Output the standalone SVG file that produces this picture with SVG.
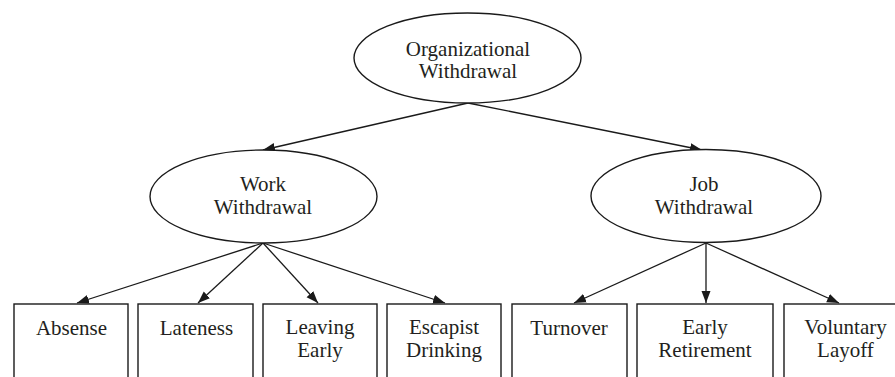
<svg xmlns="http://www.w3.org/2000/svg" width="895" height="377" viewBox="0 0 895 377">
  <defs>
    <marker id="arrow" markerUnits="userSpaceOnUse" markerWidth="13" markerHeight="10" refX="12" refY="5" orient="auto">
      <path d="M0,0.5 L12,5 L0,9.5 z" fill="#1a1a1a"/>
    </marker>
    <style>
      .shape { fill: #ffffff; stroke: #1a1a1a; stroke-width: 1.4; }
      .label { font-family: 'Liberation Serif', 'Times New Roman', Times, 'DejaVu Serif', serif; font-size: 21px; fill: #231f20; text-anchor: middle; }
      .edge { stroke: #1a1a1a; stroke-width: 1.3; fill: none; marker-end: url(#arrow); }
    </style>
  </defs>
  <rect width="895" height="377" fill="#ffffff"/>

  <g id="connectors">
    <line class="edge" x1="468" y1="103" x2="263" y2="150"/>
    <line class="edge" x1="468" y1="103" x2="702" y2="150"/>
    <line class="edge" x1="263" y1="243" x2="77" y2="303"/>
    <line class="edge" x1="263" y1="243" x2="198" y2="303"/>
    <line class="edge" x1="263" y1="243" x2="318" y2="303"/>
    <line class="edge" x1="263" y1="243" x2="445" y2="303"/>
    <line class="edge" x1="706" y1="243" x2="574" y2="303"/>
    <line class="edge" x1="706" y1="243" x2="706" y2="303"/>
    <line class="edge" x1="706" y1="243" x2="839" y2="303"/>
  </g>

  <g id="organizational-withdrawal">
    <ellipse class="shape" cx="467.5" cy="58" rx="113.5" ry="45"/>
    <text class="label" font-family="Liberation Serif, serif" x="468" y="56">Organizational</text>
    <text class="label" font-family="Liberation Serif, serif" x="468" y="78">Withdrawal</text>
  </g>

  <g id="work-withdrawal">
    <ellipse class="shape" cx="263.5" cy="196.5" rx="113.5" ry="46.5"/>
    <text class="label" x="263" y="191">Work</text>
    <text class="label" x="263" y="214">Withdrawal</text>
  </g>

  <g id="job-withdrawal">
    <ellipse class="shape" cx="706" cy="196" rx="115" ry="46.5"/>
    <text class="label" x="704" y="191">Job</text>
    <text class="label" x="704" y="214">Withdrawal</text>
  </g>

  <g id="absense">
    <rect class="shape" x="14" y="304" width="114" height="100"/>
    <text class="label" x="71.5" y="335">Absense</text>
  </g>

  <g id="lateness">
    <rect class="shape" x="138" y="304" width="115" height="100"/>
    <text class="label" x="196.5" y="335">Lateness</text>
  </g>

  <g id="leaving-early">
    <rect class="shape" x="263" y="304" width="114" height="100"/>
    <text class="label" x="320" y="334">Leaving</text>
    <text class="label" x="320" y="357">Early</text>
  </g>

  <g id="escapist-drinking">
    <rect class="shape" x="387" y="304" width="114" height="100"/>
    <text class="label" x="444" y="334">Escapist</text>
    <text class="label" x="444" y="357">Drinking</text>
  </g>

  <g id="turnover">
    <rect class="shape" x="512" y="304" width="115" height="100"/>
    <text class="label" x="569" y="335">Turnover</text>
  </g>

  <g id="early-retirement">
    <rect class="shape" x="637" y="304" width="136" height="100"/>
    <text class="label" x="705" y="334">Early</text>
    <text class="label" x="705" y="357">Retirement</text>
  </g>

  <g id="voluntary-layoff">
    <rect class="shape" x="784" y="304" width="125" height="100"/>
    <text class="label" x="845.5" y="334">Voluntary</text>
    <text class="label" x="845.5" y="357">Layoff</text>
  </g>
</svg>
